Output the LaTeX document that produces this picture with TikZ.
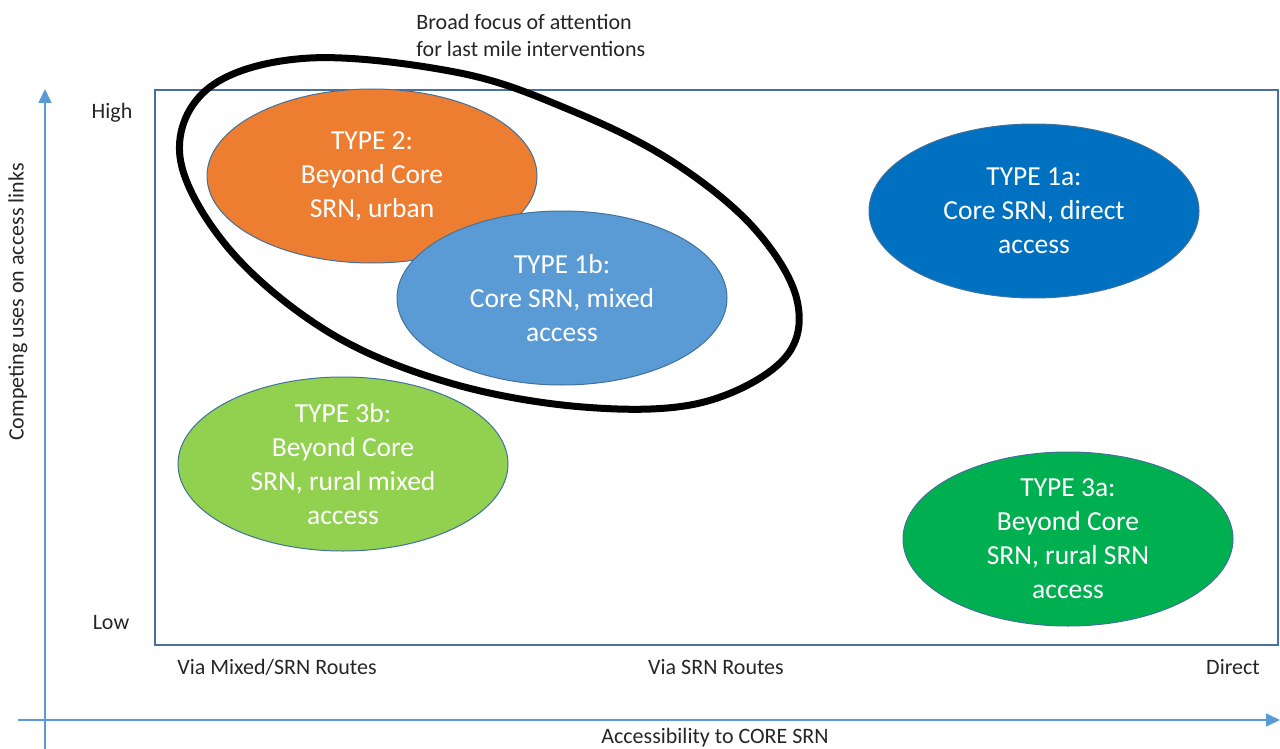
\documentclass[tikz,border=0pt]{standalone}
\usepackage{fontspec}
\setmainfont{Carlito}
\usetikzlibrary{shapes.geometric,arrows.meta}
\definecolor{axisblue}{HTML}{5B9BD5}
\definecolor{boxblue}{HTML}{4A70A0}
\definecolor{edgeblue}{HTML}{41719C}
\definecolor{torange}{HTML}{ED7D31}
\definecolor{tblueb}{HTML}{5B9BD5}
\definecolor{tbluea}{HTML}{0070C0}
\definecolor{tgreenb}{HTML}{92D050}
\definecolor{tgreena}{HTML}{00B050}
\tikzset{
  typeoval/.style={ellipse, draw=edgeblue, line width=0.5pt, minimum width=165pt, minimum height=87pt, inner sep=0pt, align=center, text=white, font=\fontsize{13.75}{17}\selectfont},
  axislabel/.style={font=\fontsize{11}{13.5}\selectfont, text=black!85, inner sep=0pt},
  axisline/.style={draw=axisblue, line width=0.8pt},
  focusring/.style={draw=black, line width=3.5pt}
}
\begin{document}
\begin{tikzpicture}[x=0.5pt,y=-0.5pt]
\useasboundingbox (0,0) rectangle (1280,749);
% axes
\coordinate (ybot) at (45,749);
\coordinate (ytop) at (45,89);
\coordinate (xleft) at (18,720);
\coordinate (xright) at (1280,720);
\draw[axisline, -{Triangle[length=7pt,width=6.5pt]}] (ybot) -- (ytop);
\draw[axisline, -{Triangle[length=7pt,width=6.5pt]}] (xleft) -- (xright);
% frame
\node[draw=boxblue, line width=1pt, minimum width=1123*0.5pt, minimum height=555*0.5pt, inner sep=0pt, anchor=north west] (frame) at (154,89) {};
% ovals
\node[typeoval, fill=torange] (t2) at (372,176) {TYPE 2:\\Beyond Core\\SRN, urban};
\node[typeoval, fill=tblueb] (t1b) at (562,298) {TYPE 1b:\\Core SRN, mixed\\access};
\node[typeoval, fill=tbluea] (t1a) at (1034,211) {TYPE 1a:\\Core SRN, direct\\access};
\node[typeoval, fill=tgreenb] (t3b) at (343,464) {TYPE 3b:\\Beyond Core\\SRN, rural mixed\\access};
\node[typeoval, fill=tgreena] (t3a) at (1068,539) {TYPE 3a:\\Beyond Core\\SRN, rural SRN\\access};
% focus ring
\draw[focusring] plot[smooth cycle, tension=0.6] coordinates {
  (180,157) (230,250) (330,333) (450,383) (583,407) (700,403)
  (783,360) (797,300) (753,227) (670,160) (570,110) (460,73)
  (310,58) (210,87)};
\node[axislabel, align=left, anchor=north west] (focuslabel) at (416,14) {Broad focus of attention\\for last mile interventions};
% axis labels
\node[axislabel] (high) at (112,113) {High};
\node[axislabel] (low) at (111,623) {Low};
\node[axislabel] (vmixed) at (277,667) {Via Mixed/SRN Routes};
\node[axislabel] (vsrn) at (716,667) {Via SRN Routes};
\node[axislabel] (direct) at (1233,667) {Direct};
\node[axislabel] (xlabel) at (715,738) {Accessibility to CORE SRN};
\node[axislabel, rotate=90] (ylabel) at (18,302) {Competing uses on access links};
\end{tikzpicture}
\end{document}
